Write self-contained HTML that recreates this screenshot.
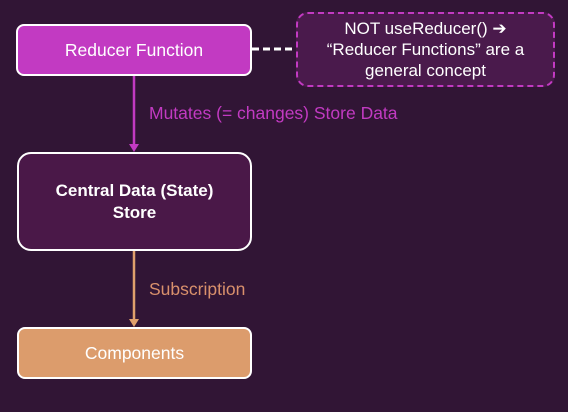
<!DOCTYPE html>
<html><head><style>
body{margin:0;width:568px;height:412px;background:#311535;font-family:"Liberation Sans",sans-serif;position:relative;overflow:hidden}
.b{position:absolute;box-sizing:border-box;display:flex;align-items:center;justify-content:center;text-align:center;color:#fff}
.t{position:absolute;font-size:17.5px;white-space:nowrap}
</style></head><body>
<svg width="568" height="412" style="position:absolute;left:0;top:0">
<line x1="252" y1="49" x2="296" y2="49" stroke="#fff" stroke-width="3" stroke-dasharray="7,4"/>
<line x1="134" y1="76" x2="134" y2="146" stroke="#c23ac2" stroke-width="2.5"/>
<polygon points="129,144 139,144 134,152" fill="#c23ac2"/>
<line x1="134" y1="251" x2="134" y2="321" stroke="#e0a06c" stroke-width="2.5"/>
<polygon points="129,319 139,319 134,327" fill="#e0a06c"/>
</svg>
<div class="b" style="left:16px;top:24px;width:236px;height:52px;background:#c23ac2;border:2px solid #fff;border-radius:8px;font-size:17.5px">Reducer Function</div>
<div class="b" style="left:296px;top:12px;width:259px;height:75px;background:#4a1a4c;border:2px dashed #c23ac2;border-radius:12px;font-size:17px;line-height:21px">NOT useReducer() ➔<br>“Reducer Functions” are a<br>general concept</div>
<div class="t" style="left:149px;top:103px;color:#c23ac2">Mutates (= changes) Store Data</div>
<div class="b" style="left:17px;top:152px;width:235px;height:99px;background:#4a1848;border:2px solid #fff;border-radius:14px;font-size:17px;font-weight:bold;line-height:22px">Central Data (State)<br>Store</div>
<div class="t" style="left:149px;top:279px;color:#d9906c">Subscription</div>
<div class="b" style="left:17px;top:327px;width:235px;height:52px;background:#dc9c6c;border:2px solid #fff;border-radius:8px;font-size:17.5px">Components</div>
</body></html>
